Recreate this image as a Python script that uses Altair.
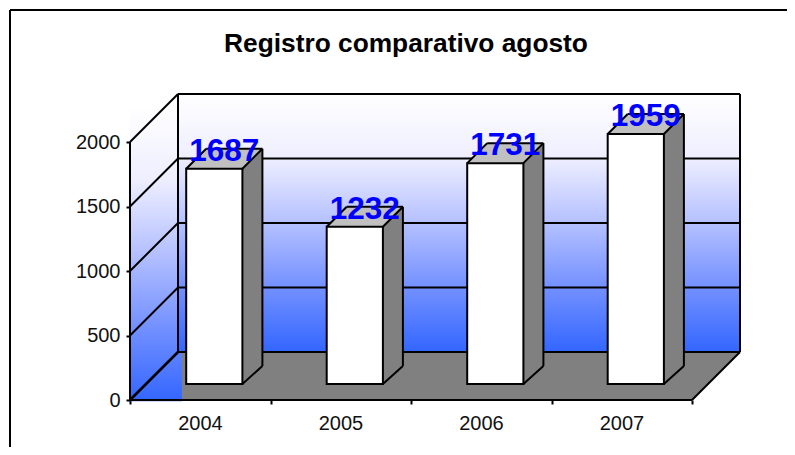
import altair as alt
import pandas as pd

years = ["2004", "2005", "2006", "2007"]
values = [1687, 1232, 1731, 1959]
y_ticks = [0, 500, 1000, 1500, 2000]
title_text = "Registro comparativo agosto"

# scale: x in category slots, y in value units
SLOT = 140.5
UNIT = 0.129
W, H = 610, 306
XMAX, YMAX = W / SLOT, H / UNIT
DX, DY = 48 / SLOT, 48 / UNIT          # depth of the box
BX0, BW = 0.4, 0.4                     # bar offset/width inside slot
BDX, BDY, BDY0 = 20 / SLOT, 20 / UNIT, 18 / UNIT   # bar depth
BASE, FACT = 16 / UNIT, 0.989          # bar front plane


def by(v):
    return BASE + v * FACT


xs = alt.Scale(domain=[0, XMAX], nice=False, zero=False)
ys = alt.Scale(domain=[0, YMAX], nice=False, zero=False)
FONT = "Liberation Sans"
LW = 2

x_axis = alt.Axis(
    values=[0, 1, 2, 3, 4], grid=False, domain=False, tickSize=4, tickWidth=LW,
    tickColor="black", labelExpr="(%s)[datum.value]" % (str(years + [""])),
    labelOffset=70, labelPadding=9, labelFont=FONT, labelFontSize=20,
    labelColor="#111111", title=None, labelAngle=0, labelOverlap=False, labelFlush=False,
)
y_axis = alt.Axis(
    values=y_ticks, grid=False, domain=False, tickSize=4, tickWidth=LW,
    tickColor="black", labelPadding=6, labelFont=FONT, labelFontSize=20,
    labelColor="#111111", title=None, labelOverlap=False, labelFlush=False, format="d",
)


def X():
    return alt.X("x:Q", scale=xs, axis=x_axis, title=None)


def Y():
    return alt.Y("y:Q", scale=ys, axis=y_axis, title=None)


def gradient():
    return alt.LinearGradient(
        gradient="linear", x1=0, x2=0, y1=0, y2=1,
        stops=[
            alt.GradientStop(offset=0, color="#ffffff"),
            alt.GradientStop(offset=0.25, color="#eeeeff"),
            alt.GradientStop(offset=0.5, color="#b4c0ff"),
            alt.GradientStop(offset=0.75, color="#7390ff"),
            alt.GradientStop(offset=1, color="#3366ff"),
        ],
    )


def rect(df, **kw):
    return alt.Chart(pd.DataFrame(df)).mark_rect(clip=False, **kw)


def rules(rows, width=LW):
    return alt.Chart(pd.DataFrame(rows, columns=["x", "x2", "y", "y2"])).mark_rule(
        color="black", strokeWidth=width, clip=False
    ).encode(X(), alt.X2("x2:Q"), Y(), alt.Y2("y2:Q"))


fx = 52 / SLOT
left_wall = rect({"x": [0], "x2": [fx], "y": [-10], "y2": [2280]}, color=gradient()).encode(
    X(), alt.X2("x2:Q"), Y(), alt.Y2("y2:Q")
)
back_wall = rect({"x": [DX], "x2": [XMAX], "y": [DY], "y2": [YMAX]}, color=gradient()).encode(
    X(), alt.X2("x2:Q"), Y(), alt.Y2("y2:Q")
)
floor = alt.Chart(
    pd.DataFrame({"x": [fx, 4, XMAX], "y": [0, 0, DY], "y2": [DY, DY, DY]})
).mark_area(color="#808080", opacity=1, clip=False).encode(X(), Y(), alt.Y2("y2:Q"))

frame = alt.Chart(pd.DataFrame({"a": [0]}))
frame_top = frame.mark_rule(color="black", strokeWidth=2).encode(
    x=alt.value(-120), x2=alt.value(657), y=alt.value(-84)
)
frame_left = frame.mark_rule(color="black", strokeWidth=2).encode(
    x=alt.value(-120), y=alt.value(-84), y2=alt.value(361)
)
title_l = alt.Chart(pd.DataFrame({"t": [title_text]})).mark_text(
    font=FONT, fontSize=26.3, fontWeight="bold", color="black", baseline="alphabetic",
    align="center",
).encode(x=alt.value(276), y=alt.value(-42), text="t:N")

grid = []
for t in y_ticks:
    grid.append((DX, XMAX, t + DY, t + DY))
    if t:
        grid.append((0, DX, t, t + DY))
grid += [
    (0, 0, 0, 2000),
    (DX, DX, DY, YMAX),
    (XMAX, XMAX, DY, YMAX),
    (0, 4, 0, 0),
    (4, XMAX, 0, DY),
]
thick = [(0, DX, 0, DY)]

front, side, top, edges, labels = [], [], [], [], []
for i, (yr, v) in enumerate(zip(years, values)):
    l, r = i + BX0, i + BX0 + BW
    t, b = by(v), BASE
    front.append({"x": l, "x2": r, "y": b, "y2": t})
    side += [
        {"k": i, "x": r, "y": b, "y2": t},
        {"k": i, "x": r + BDX, "y": b + BDY0, "y2": t + BDY},
    ]
    top += [
        {"k": i, "x": l, "y": t, "y2": t},
        {"k": i, "x": l + BDX, "y": t, "y2": t + BDY},
        {"k": i, "x": r, "y": t, "y2": t + BDY},
        {"k": i, "x": r + BDX, "y": t + BDY, "y2": t + BDY},
    ]
    edges += [
        (l, l + BDX, t, t + BDY),
        (r, r + BDX, t, t + BDY),
        (l + BDX, r + BDX, t + BDY, t + BDY),
        (r + BDX, r + BDX, b + BDY0, t + BDY),
        (r, r + BDX, b, b + BDY0),
    ]
    labels.append({"x": (l + r) / 2 + BDX / 2, "y": t, "t": str(v)})

front_l = rect(front, color="white", stroke="black", strokeWidth=LW).encode(
    X(), alt.X2("x2:Q"), Y(), alt.Y2("y2:Q")
)
side_l = alt.Chart(pd.DataFrame(side)).mark_area(color="#808080", opacity=1, clip=False).encode(
    X(), Y(), alt.Y2("y2:Q"), detail="k:N"
)
top_l = alt.Chart(pd.DataFrame(top)).mark_area(color="#c0c0c0", opacity=1, clip=False).encode(
    X(), Y(), alt.Y2("y2:Q"), detail="k:N"
)
label_l = alt.Chart(pd.DataFrame(labels)).mark_text(
    font=FONT, fontSize=31.5, fontWeight="bold", color="#0000ff", baseline="alphabetic",
    align="center", dy=-8, clip=False,
).encode(X(), Y(), text="t:N")

chart = alt.layer(
    left_wall, back_wall, floor, rules(grid), rules(thick, 2.6),
    side_l, top_l, front_l, rules(edges), label_l, title_l, frame_top, frame_left,
).properties(
    width=W,
    height=H,
    autosize=alt.AutoSizeParams(type="none"),
    padding={"left": 122, "top": 86, "right": 47, "bottom": 47},
    background="white",
).configure_view(stroke=None)

chart.save("out.html", embed_options={"renderer": "svg", "actions": False})
